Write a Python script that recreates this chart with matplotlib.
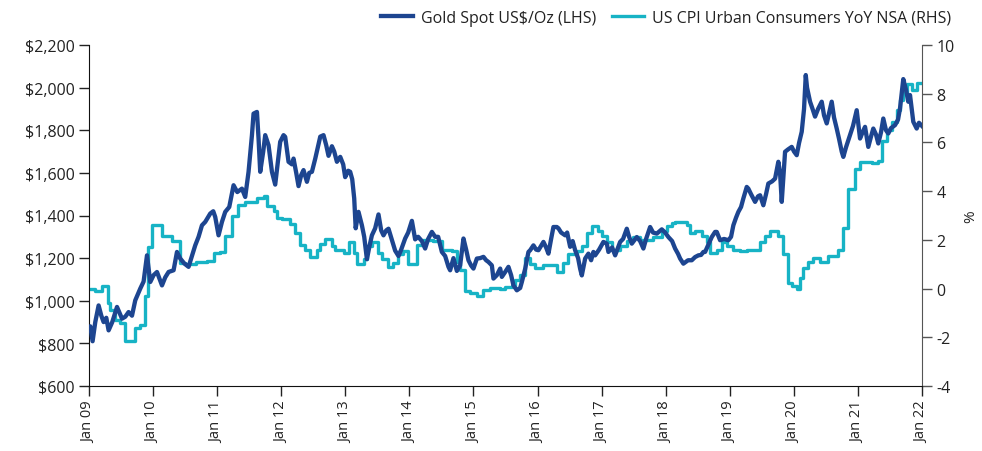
import matplotlib
matplotlib.use("Agg")
import matplotlib.pyplot as plt
from matplotlib.ticker import FuncFormatter, FixedLocator
import numpy as np

plt.rcParams['font.family'] = ['Open Sans', 'DejaVu Sans']
plt.rcParams['axes.unicode_minus'] = False

# ---- data (x = years since Jan 2009 on the chart's axis) ----
gold_t = [0.000, 0.020, 0.056, 0.098, 0.150, 0.192, 0.228, 0.270, 0.306, 0.363, 0.437, 0.515, 0.566, 0.618, 0.671,
          0.722, 0.800, 0.852, 0.905, 0.956, 1.008, 1.061, 1.139, 1.190, 1.242, 1.320, 1.373, 1.424, 1.487, 1.554,
          1.607, 1.658, 1.710, 1.763, 1.814, 1.892, 1.939, 1.970, 2.022, 2.075, 2.126, 2.189, 2.256, 2.314, 2.387,
          2.438, 2.490, 2.543, 2.568, 2.621, 2.646, 2.672, 2.719, 2.750, 2.802, 2.855, 2.906, 2.984, 3.036, 3.062,
          3.114, 3.167, 3.192, 3.234, 3.270, 3.312, 3.348, 3.401, 3.437, 3.479, 3.531, 3.609, 3.660, 3.702, 3.738,
          3.791, 3.827, 3.869, 3.921, 3.967, 3.998, 4.045, 4.076, 4.108, 4.139, 4.162, 4.206, 4.259, 4.295, 4.337,
          4.373, 4.415, 4.466, 4.518, 4.560, 4.596, 4.638, 4.674, 4.732, 4.778, 4.830, 4.872, 4.934, 4.981, 5.039,
          5.090, 5.137, 5.195, 5.246, 5.293, 5.351, 5.402, 5.449, 5.507, 5.558, 5.610, 5.636, 5.688, 5.741, 5.792,
          5.844, 5.886, 5.922, 5.964, 6.000, 6.053, 6.105, 6.156, 6.198, 6.234, 6.287, 6.312, 6.365, 6.417, 6.443,
          6.495, 6.546, 6.588, 6.624, 6.677, 6.729, 6.755, 6.807, 6.858, 6.885, 6.936, 6.978, 7.014, 7.092, 7.134,
          7.170, 7.212, 7.248, 7.301, 7.326, 7.368, 7.431, 7.462, 7.509, 7.548, 7.587, 7.633, 7.665, 7.691, 7.743,
          7.794, 7.836, 7.872, 7.899, 7.961, 8.028, 8.081, 8.106, 8.164, 8.211, 8.289, 8.335, 8.393, 8.429, 8.471,
          8.549, 8.601, 8.652, 8.694, 8.757, 8.803, 8.861, 8.939, 8.991, 9.042, 9.100, 9.147, 9.193, 9.225, 9.276,
          9.303, 9.349, 9.407, 9.459, 9.510, 9.552, 9.588, 9.615, 9.661, 9.719, 9.771, 9.797, 9.849, 9.911, 9.978,
          10.020, 10.056, 10.098, 10.134, 10.176, 10.212, 10.265, 10.290, 10.332, 10.395, 10.441, 10.473, 10.524,
          10.566, 10.602, 10.660, 10.707, 10.758, 10.785, 10.811, 10.863, 10.909, 10.967, 11.003, 11.045, 11.081,
          11.123, 11.159, 11.186, 11.206, 11.253, 11.292, 11.331, 11.378, 11.435, 11.471, 11.513, 11.549, 11.591,
          11.627, 11.669, 11.705, 11.747, 11.772, 11.814, 11.877, 11.923, 11.981, 12.033, 12.072, 12.111, 12.162,
          12.204, 12.240, 12.282, 12.318, 12.360, 12.396, 12.438, 12.474, 12.516, 12.579, 12.626, 12.657, 12.708,
          12.750, 12.786, 12.813, 12.864, 12.917, 12.953, 13.000]
gold_usd = [878, 880, 810, 900, 978, 930, 900, 920, 861, 900, 971, 916, 925, 947, 930,
            1002, 1057, 1090, 1213, 1088, 1120, 1135, 1072, 1110, 1135, 1143, 1229, 1198, 1175, 1159,
            1210, 1260, 1300, 1354, 1370, 1409, 1420, 1393, 1307, 1370, 1417, 1440, 1542, 1510, 1526,
            1487, 1605, 1777, 1878, 1886, 1761, 1605, 1700, 1777, 1730, 1605, 1545, 1746, 1777, 1769,
            1652, 1640, 1667, 1600, 1538, 1590, 1613, 1558, 1600, 1605, 1667, 1770, 1777, 1730, 1680,
            1725, 1700, 1652, 1675, 1640, 1580, 1610, 1605, 1570, 1480, 1340, 1417, 1354, 1300, 1195,
            1250, 1307, 1340, 1405, 1330, 1307, 1330, 1338, 1280, 1235, 1210, 1240, 1292, 1320, 1375,
            1288, 1300, 1280, 1245, 1290, 1323, 1300, 1300, 1229, 1210, 1159, 1143, 1200, 1140, 1166,
            1292, 1240, 1190, 1165, 1151, 1198, 1200, 1206, 1190, 1182, 1166, 1104, 1120, 1151, 1112,
            1135, 1159, 1120, 1072, 1049, 1060, 1088, 1150, 1229, 1237, 1260, 1240, 1237, 1276, 1250,
            1221, 1290, 1346, 1346, 1340, 1320, 1307, 1320, 1253, 1280, 1237, 1200, 1150, 1119, 1198,
            1221, 1190, 1229, 1213, 1240, 1276, 1268, 1229, 1250, 1213, 1276, 1290, 1338, 1300, 1268,
            1299, 1280, 1245, 1290, 1346, 1320, 1315, 1335, 1320, 1299, 1280, 1245, 1220, 1198, 1174,
            1180, 1190, 1190, 1205, 1213, 1215, 1229, 1229, 1260, 1299, 1323, 1323, 1284, 1290, 1284,
            1300, 1354, 1390, 1417, 1440, 1480, 1534, 1526, 1500, 1464, 1490, 1495, 1448,
            1500, 1550, 1560, 1573, 1652, 1600, 1464, 1699, 1710, 1722, 1700, 1683, 1740,
            1793, 1900, 2059, 2000, 1934, 1900, 1864, 1900, 1934, 1870, 1832, 1880, 1934,
            1860, 1808, 1760, 1700, 1675, 1720, 1777, 1820, 1894, 1761, 1790, 1816, 1722,
            1770, 1808, 1780, 1738, 1790, 1855, 1800, 1785, 1810, 1824, 1850, 1903, 2040,
            1990, 1934, 1965, 1840, 1808, 1835, 1820]

cpi_t = [0.000, 0.098, 0.203, 0.296, 0.332, 0.410, 0.488, 0.566, 0.711, 0.800, 0.867, 0.920, 0.983, 1.139, 1.295,
         1.424, 1.502, 1.674, 1.841, 1.944, 2.048, 2.126, 2.231, 2.329, 2.438, 2.621, 2.724, 2.777, 2.880, 2.933,
         3.011, 3.140, 3.218, 3.296, 3.374, 3.452, 3.557, 3.609, 3.687, 3.791, 3.843, 3.972, 4.050, 4.128, 4.181,
         4.284, 4.337, 4.415, 4.518, 4.571, 4.674, 4.752, 4.830, 4.908, 4.986, 5.117, 5.215, 5.371, 5.507, 5.663,
         5.741, 5.792, 5.870, 5.948, 6.053, 6.156, 6.261, 6.417, 6.495, 6.599, 6.651, 6.729, 6.807, 6.885, 6.963,
         7.092, 7.301, 7.404, 7.482, 7.613, 7.691, 7.769, 7.847, 7.950, 8.003, 8.081, 8.159, 8.289, 8.393, 8.496,
         8.601, 8.808, 8.939, 9.017, 9.095, 9.147, 9.329, 9.381, 9.459, 9.563, 9.641, 9.693, 9.797, 9.875, 9.953,
         10.056, 10.160, 10.265, 10.473, 10.551, 10.629, 10.758, 10.836, 10.914, 10.967, 11.045, 11.097, 11.148,
         11.226, 11.304, 11.409, 11.538, 11.694, 11.772, 11.850, 11.955, 12.033, 12.215, 12.318, 12.376, 12.449,
         12.527, 12.605, 12.657, 12.708, 12.761, 12.839, 12.917, 13.000]
cpi_pct = [0.0, -0.1, 0.1, -0.6, -0.9, -1.3, -1.4, -2.15, -1.6, -1.5, -0.3, 1.7, 2.6, 2.15, 1.95,
           1.05, 1.0, 1.1, 1.15, 1.45, 1.5, 2.15, 3.0, 3.45, 3.55, 3.7, 3.8, 3.4, 3.2, 2.9,
           2.85, 2.65, 2.3, 1.8, 1.6, 1.3, 1.6, 1.85, 2.05, 1.75, 1.6, 1.45, 1.9, 1.45, 1.0,
           1.2, 1.75, 1.9, 1.45, 1.2, 0.9, 1.05, 1.4, 1.55, 1.0, 1.8, 2.0, 1.95, 1.6, 1.55,
           1.1, 0.75, -0.1, -0.18, -0.3, -0.05, 0.03, 0.0, 0.05, 0.1, 0.37, 0.57, 1.25, 1.0, 0.85,
           0.95, 0.7, 1.05, 1.4, 1.55, 1.75, 2.3, 2.55, 2.35, 2.15, 1.9, 1.6, 1.75, 1.95, 2.1,
           2.0, 2.1, 2.35, 2.55, 2.7, 2.75, 2.6, 2.3, 2.35, 2.15, 1.9, 1.45, 1.6, 1.9, 1.75,
           1.6, 1.55, 1.6, 1.9, 2.15, 2.35, 2.15, 1.4, 0.23, 0.1, 0.0, 0.45, 0.85,
           1.1, 1.25, 1.1, 1.33, 1.6, 2.5, 4.07, 4.9, 5.2, 5.15, 5.25, 6.05, 6.5,
           6.85, 7.35, 7.76, 8.04, 8.38, 8.17, 8.45, 8.45]

x_tick_labels = ['Jan 09', 'Jan 10', 'Jan 11', 'Jan 12', 'Jan 13', 'Jan 14', 'Jan 15',
                 'Jan 16', 'Jan 17', 'Jan 18', 'Jan 19', 'Jan 20', 'Jan 21', 'Jan 22']
left_ticks = [600, 800, 1000, 1200, 1400, 1600, 1800, 2000, 2200]
right_ticks = [-4, -2, 0, 2, 4, 6, 8, 10]

GOLD_C = '#1d4590'
CPI_C = '#17b3c5'
TXT = '#222222'

fig = plt.figure(figsize=(9.82, 4.52), dpi=100)
ax = fig.add_axes([89/982, 1-387/452, (922-89)/982, (387-46)/452])
ax2 = ax.twinx()

ln1, = ax.plot(gold_t, gold_usd, color=GOLD_C, lw=3.1, solid_joinstyle='round',
               label='Gold Spot US$/Oz (LHS)', zorder=3)
ln2, = ax2.plot(cpi_t, cpi_pct, color=CPI_C, lw=2.4, drawstyle='steps-post',
                label='US CPI Urban Consumers YoY NSA (RHS)', zorder=2)

ax.set_xlim(0, 13)
ax.set_ylim(600, 2200)
ax2.set_ylim(-4, 10)

ax.xaxis.set_major_locator(FixedLocator(range(len(x_tick_labels))))
ax.set_xticklabels(x_tick_labels, rotation=90, color=TXT)
ax.set_yticks(left_ticks)
ax.yaxis.set_major_formatter(FuncFormatter(lambda v, p: '${:,.0f}'.format(v)))
ax2.set_yticks(right_ticks)
ax2.yaxis.set_major_formatter(FuncFormatter(lambda v, p: '{:d}'.format(int(v))))

for a in (ax, ax2):
    a.spines['top'].set_visible(False)
    a.tick_params(axis='both', labelsize=11.5, colors=TXT, length=7, width=1, direction='out')
ax.spines['right'].set_visible(False)
ax2.spines['left'].set_visible(False)
ax2.spines['bottom'].set_visible(False)
ax2.spines['right'].set_color('#555555')
ax2.tick_params(axis='y', colors='#555555', labelcolor=TXT)
ax.spines['left'].set_color('#111111')
ax.spines['bottom'].set_color('#111111')
ax.tick_params(axis='x', labelsize=10.5)

ax2.set_ylabel('%', fontsize=11, color=TXT, labelpad=6)

ax2.set_zorder(ax.get_zorder() - 1)
ax.patch.set_visible(False)

fig.legend(handles=[ln1, ln2], loc='upper right', bbox_to_anchor=(0.983, 1.008), ncol=2,
           frameon=False, fontsize=11.5, handlelength=2.0, handletextpad=0.5, columnspacing=1.0,
           labelcolor=TXT)

fig.savefig('out.png', dpi=100)
